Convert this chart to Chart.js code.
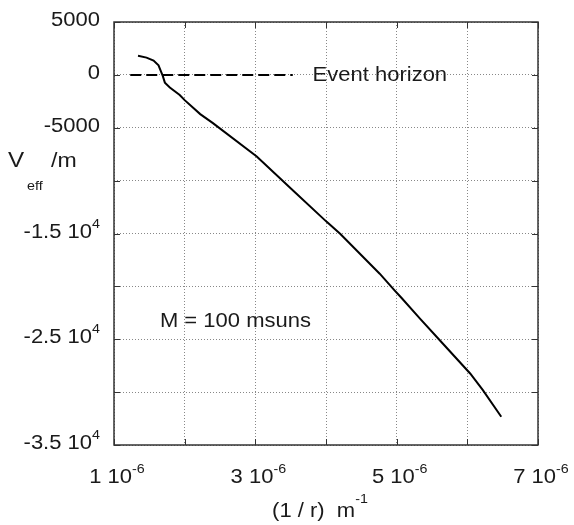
<!DOCTYPE html>
<html>
<head>
<meta charset="utf-8">
<script src="https://cdn.jsdelivr.net/npm/chart.js@4"></script>
<style>
  html, body { margin: 0; padding: 0; background: #fff; }
  #wrap { width: 574px; height: 525px; }
</style>
</head>
<body>
<div id="wrap"><canvas id="veffChart" width="574" height="525"></canvas></div>
<script>
// Effective potential vs 1/r, M = 100 msuns
const invR = [1.34e-6, 1.46e-6, 1.56e-6, 1.63e-6, 1.66e-6, 1.69e-6, 1.72e-6, 1.79e-6,
              1.93e-6, 2.0e-6, 2.22e-6, 2.40e-6, 3.02e-6, 3.56e-6, 4.01e-6, 4.2e-6,
              4.76e-6, 4.97e-6, 5.07e-6, 5.33e-6, 5.61e-6, 6.04e-6, 6.22e-6, 6.48e-6];
const veff = [1800, 1630, 1350, 900, 400, -100, -730, -1200,
              -1900, -2390, -3710, -4560, -7710, -11100, -13900, -15030,
              -18800, -20380, -21100, -23050, -25090, -28240, -29810, -32330];

const horizonX = [1.23e-6, 3.53e-6];
const horizonY = [0, 0];

const xLabelValues = [1e-6, 3e-6, 5e-6, 7e-6];
const yLabelValues = [5000, 0, -5000, -15000, -25000, -35000];

const textColor = '#1a1a1a';
const fontFam = '"Liberation Sans", Arial, sans-serif';
const stretch = 1.1;

// draw a row of text pieces, each {t, size, dy}; align 'left' | 'right' | 'center'
const drawRich = (ctx, parts, x, y, align) => {
    let total = 0;
    parts.forEach(p => {
        ctx.font = p.size + 'px ' + fontFam;
        p.w = ctx.measureText(p.t).width * stretch;
        total += p.w;
    });
    let cx = align === 'right' ? x - total : align === 'center' ? x - total / 2 : x;
    parts.forEach(p => {
        ctx.save();
        ctx.font = p.size + 'px ' + fontFam;
        ctx.translate(cx, y + (p.dy || 0));
        ctx.scale(stretch, 1);
        ctx.fillText(p.t, 0, 0);
        ctx.restore();
        cx += p.w;
    });
};

const sciParts = (v) => {
    if (Math.abs(v) >= 10000) {
        const m = v / 10000;
        return [{ t: m + ' 10', size: 20 }, { t: '4', size: 13, dy: -10 }];
    }
    return [{ t: String(v), size: 20 }];
};

const overlay = {
    id: 'overlay',
    afterDraw(chart) {
        const { ctx, chartArea: a, scales: { x, y } } = chart;
        ctx.save();

        // frame
        ctx.strokeStyle = '#333';
        ctx.lineWidth = 1.5;
        ctx.setLineDash([]);
        ctx.strokeRect(a.left, a.top, a.right - a.left, a.bottom - a.top);

        // inward tick marks
        ctx.lineWidth = 1;
        ctx.beginPath();
        x.ticks.forEach(t => {
            const px = Math.round(x.getPixelForValue(t.value)) + 0.5;
            ctx.moveTo(px, a.bottom); ctx.lineTo(px, a.bottom - 6);
            ctx.moveTo(px, a.top); ctx.lineTo(px, a.top + 6);
        });
        y.ticks.forEach(t => {
            const py = Math.round(y.getPixelForValue(t.value)) + 0.5;
            ctx.moveTo(a.left, py); ctx.lineTo(a.left + 6, py);
            ctx.moveTo(a.right, py); ctx.lineTo(a.right - 6, py);
        });
        ctx.stroke();

        ctx.fillStyle = textColor;
        ctx.textBaseline = 'alphabetic';
        ctx.textAlign = 'left';

        // y tick labels
        yLabelValues.forEach(v => {
            drawRich(ctx, sciParts(v), a.left - 14, y.getPixelForValue(v) + 4, 'right');
        });

        // x tick labels
        xLabelValues.forEach(v => {
            const m = Math.round(v * 1e6);
            drawRich(ctx, [{ t: m + ' 10', size: 20 }, { t: '-6', size: 13, dy: -10 }],
                x.getPixelForValue(v) + 3, a.bottom + 38, 'center');
        });

        // axis titles
        drawRich(ctx, [{ t: '(1 / r)  m', size: 20 }, { t: '-1', size: 13, dy: -14 }],
            (a.left + a.right) / 2 - 6, a.bottom + 72, 'center');
        drawRich(ctx, [{ t: 'V', size: 22 }], 8, 167, 'left');
        drawRich(ctx, [{ t: 'eff', size: 13 }], 27, 190, 'left');
        drawRich(ctx, [{ t: '/m', size: 21 }], 51, 167, 'left');

        // in-plot labels
        drawRich(ctx, [{ t: 'Event horizon', size: 20 }], x.getPixelForValue(3.81e-6), y.getPixelForValue(0) + 6, 'left');
        drawRich(ctx, [{ t: 'M = 100 msuns', size: 20 }], x.getPixelForValue(1.65e-6), y.getPixelForValue(-23200) + 7, 'left');

        ctx.restore();
    }
};

const ctx = document.getElementById('veffChart').getContext('2d');
new Chart(ctx, {
    type: 'line',
    data: {
        datasets: [
            {
                label: 'Veff',
                data: invR.map((v, i) => ({ x: v, y: veff[i] })),
                borderColor: '#000',
                borderWidth: 2,
                pointRadius: 0,
                tension: 0,
                fill: false
            },
            {
                label: 'Event horizon',
                data: horizonX.map((v, i) => ({ x: v, y: horizonY[i] })),
                borderColor: '#000',
                borderWidth: 2,
                borderDash: [11, 5],
                pointRadius: 0,
                fill: false
            }
        ]
    },
    options: {
        responsive: false,
        animation: false,
        layout: { padding: { left: 114, right: 36, top: 22, bottom: 80 } },
        plugins: { legend: { display: false }, tooltip: { enabled: false } },
        scales: {
            x: {
                type: 'linear',
                min: 1e-6,
                max: 7e-6,
                ticks: { display: false, stepSize: 1e-6 },
                grid: { color: '#888', lineWidth: 1, drawTicks: false },
                border: { display: false, dash: [1, 2] }
            },
            y: {
                min: -35000,
                max: 5000,
                ticks: { display: false, stepSize: 5000 },
                grid: { color: '#888', lineWidth: 1, drawTicks: false },
                border: { display: false, dash: [1, 2] }
            }
        }
    },
    plugins: [overlay]
});
</script>
</body>
</html>
